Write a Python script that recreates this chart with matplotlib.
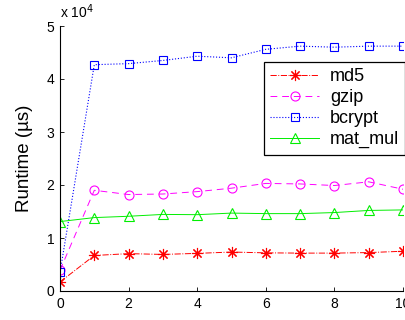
import matplotlib
matplotlib.use("Agg")
from matplotlib import pyplot as plt
from matplotlib.ticker import FuncFormatter

plt.rcParams['font.family'] = ['Liberation Sans', 'DejaVu Sans']

# x positions
x = [0, 1, 2, 3, 4, 5, 6, 7, 8, 9, 10]

# runtime in microseconds
md5 = [1700, 6700, 7050, 6900, 7100, 7350, 7200, 7150, 7150, 7250, 7500]
gzip = [3900, 19000, 18200, 18300, 18750, 19400, 20300, 20200, 19900, 20600, 19200]
bcrypt = [3500, 42700, 42900, 43500, 44300, 44000, 45600, 46200, 46000, 46200, 46200]
mat_mul = [13100, 13850, 14100, 14450, 14400, 14700, 14600, 14600, 14800, 15200, 15300]

fig = plt.figure(figsize=(4.06, 3.2), dpi=100)
ax = fig.add_axes([60 / 406, 29 / 320, 343 / 406, 265 / 320])

# asterisk marker like matlab '*'
ax.plot(x, md5, color="red", linestyle="-.", linewidth=0.7, marker=(8, 2, 0),
        markersize=8, markeredgewidth=0.8, label="md5")
ax.plot(x, gzip, color="magenta", linestyle=(0, (7, 5)), linewidth=0.7, marker="o",
        markersize=6.5, markerfacecolor="none", markeredgewidth=0.8, label="gzip")
ax.plot(x, bcrypt, color="blue", linestyle=":", linewidth=0.8, marker="s",
        markersize=5.5, markerfacecolor="none", markeredgewidth=0.8, label="bcrypt")
ax.plot(x, mat_mul, color="#00ee00", linestyle="-", linewidth=0.7, marker="^",
        markersize=7, markerfacecolor="none", markeredgewidth=0.8, label="mat_mul")

ax.set_xlim(0, 10)
ax.set_ylim(0, 50000)
ax.set_xticks([0, 2, 4, 6, 8, 10])
ax.set_yticks([0, 10000, 20000, 30000, 40000, 50000])
ax.yaxis.set_major_formatter(FuncFormatter(lambda v, p: f"{v / 1e4:g}"))
ax.tick_params(direction="in", length=3, width=0.6, labelsize=10, pad=4)

ax.spines["top"].set_visible(False)
ax.spines["right"].set_visible(False)
ax.spines["left"].set_linewidth(0.8)
ax.spines["bottom"].set_linewidth(0.8)

ax.set_ylabel("Runtime (\u00b5s)", fontsize=13.5, labelpad=10)
ax.text(0.0, 1.02, "x 10$^4$", transform=ax.transAxes, fontsize=10,
        ha="left", va="bottom")

leg = ax.legend(loc="upper left", bbox_to_anchor=(264 / 406, 1 - 62 / 320),
                bbox_transform=fig.transFigure, borderaxespad=0, fontsize=13,
                handlelength=2.7, labelspacing=0.22, borderpad=0.35,
                handletextpad=0.6, fancybox=False, framealpha=1)
leg.get_frame().set_edgecolor("black")
leg.get_frame().set_linewidth(0.9)

fig.savefig("out.png", dpi=100)
